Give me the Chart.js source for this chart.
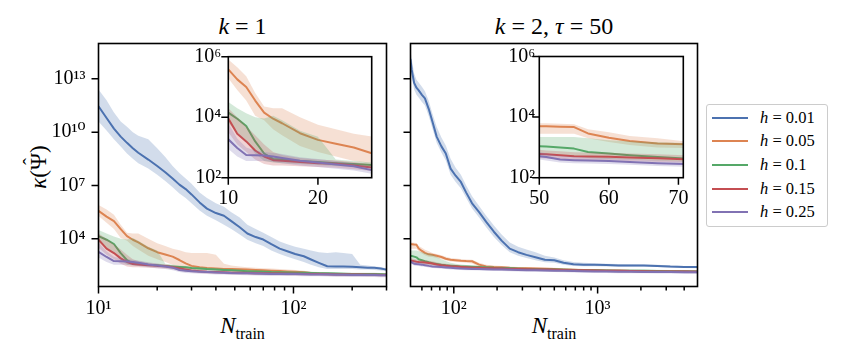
<!DOCTYPE html>
<html><head><meta charset="utf-8">
<script src="https://cdn.jsdelivr.net/npm/chart.js@4.4.1/dist/chart.umd.min.js"></script>
<style>
html,body{margin:0;padding:0;background:#fff;}
body{width:847px;height:363px;overflow:hidden;position:relative;font-family:"Liberation Serif","DejaVu Serif",serif;color:#000;}
canvas{position:absolute;}
.t{position:absolute;white-space:nowrap;line-height:1;}
#legend{position:absolute;left:706px;top:104px;width:122px;height:123px;border:1px solid #cccccc;border-radius:3px;background:rgba(255,255,255,0.85);box-sizing:border-box;padding-top:1px;z-index:10;}
.row{display:flex;align-items:center;height:23.67px;font-size:16.5px;}
.sw{width:36px;height:2px;margin-left:5px;margin-right:12px;}
.hat{position:relative;display:inline-block;}
.hat span{position:absolute;left:50%;top:-0.28em;transform:translateX(-50%);font-size:0.9em;}
</style></head>
<body>
<canvas id="cL" width="400" height="363" style="left:0;top:0;z-index:1"></canvas>
<canvas id="cR" width="300" height="363" style="left:400px;top:0;z-index:1"></canvas>
<canvas id="iL" width="215" height="170" style="left:168px;top:40px;z-index:2"></canvas>
<canvas id="iR" width="222" height="170" style="left:475px;top:40px;z-index:2"></canvas>

<div class="t" style="left:242.5px;top:14px;font-size:24px;transform:translateX(-50%)"><i>k</i> = 1</div>
<div class="t" style="left:554px;top:14px;font-size:24px;transform:translateX(-50%)"><i>k</i> = 2, <i>τ</i> = 50</div>
<div class="t" style="left:242.5px;top:314px;font-size:23px;transform:translateX(-50%)"><i>N</i><sub style="font-size:16px">train</sub></div>
<div class="t" style="left:554px;top:314px;font-size:23px;transform:translateX(-50%)"><i>N</i><sub style="font-size:16px">train</sub></div>
<div class="t" style="left:37.5px;top:166.5px;font-size:23px;transform:translate(-50%,-50%) rotate(-90deg)"><i>κ</i>(<span class="hat">Ψ<span>ˆ</span></span>)</div>
<div id="legend"></div>

<script>
// ---------------- data (values stored as log10 of kappa) ----------------
const hLabels = ['0.01', '0.05', '0.1', '0.15', '0.25'];
const colors  = ['#4C72B0', '#DD8452', '#55A868', '#C44E52', '#8172B3'];

// k = 1 panel
const leftN = [10, 11, 12, 13, 14, 15, 16, 18, 20, 22, 24, 26, 28, 30, 33, 36, 40, 44, 48, 53, 58, 64, 70, 77, 85, 93, 102, 113, 123, 135, 149, 165, 180, 200, 220, 240, 260, 280, 300];

const left_h001    = [11.46, 10.8, 10.2, 9.75, 9.4, 9.1, 8.84, 8.46, 8.1, 7.75, 7.4, 7.05, 6.8, 6.5, 6.05, 5.7, 5.45, 5.3, 5.0, 4.65, 4.3, 4.1, 3.96, 3.7, 3.45, 3.3, 3.15, 3.02, 2.84, 2.65, 2.46, 2.45, 2.44, 2.43, 2.4, 2.38, 2.37, 2.33, 2.27];
const left_h001_hi = [12.4, 11.8, 11.1, 10.6, 10.3, 10.0, 9.8, 9.6, 9.1, 8.6, 8.1, 7.7, 7.4, 7.1, 6.6, 6.3, 6.0, 5.8, 5.5, 5.2, 4.8, 4.55, 4.35, 4.1, 3.85, 3.7, 3.55, 3.45, 3.35, 3.25, 3.2, 3.25, 3.2, 3.15, 2.55, 2.5, 2.45, 2.42, 2.35];
const left_h001_lo = [10.6, 10.1, 9.6, 9.2, 8.8, 8.5, 8.25, 7.95, 7.6, 7.25, 6.9, 6.55, 6.3, 6.0, 5.6, 5.3, 5.05, 4.8, 4.55, 4.25, 3.95, 3.75, 3.6, 3.35, 3.15, 3.0, 2.85, 2.7, 2.55, 2.4, 2.3, 2.3, 2.3, 2.3, 2.28, 2.27, 2.25, 2.22, 2.18];

const left_h005    = [5.58, 5.25, 5.0, 4.55, 4.15, 3.95, 3.8, 3.47, 3.25, 3.12, 3.0, 2.81, 2.62, 2.48, 2.4, 2.36, 2.33, 2.31, 2.3, 2.29, 2.27, 2.25, 2.23, 2.21, 2.19, 2.17, 2.15, 2.12, 2.08, 2.05, 2.03, 2.02, 2.01, 2.01, 2.0, 2.0, 1.99, 1.99, 1.98];
const left_h005_hi = [5.91, 5.65, 5.35, 4.8, 4.35, 4.3, 4.3, 4.0, 3.75, 3.6, 3.45, 3.36, 3.25, 3.2, 3.2, 3.2, 3.1, 2.6, 2.5, 2.45, 2.4, 2.38, 2.35, 2.33, 2.3, 2.28, 2.25, 2.2, 2.15, 2.1, 2.08, 2.07, 2.06, 2.06, 2.05, 2.05, 2.04, 2.04, 2.03];
const left_h005_lo = [5.29, 4.9, 4.55, 4.05, 3.9, 3.6, 3.4, 3.05, 2.85, 2.7, 2.55, 2.45, 2.35, 2.3, 2.28, 2.26, 2.24, 2.22, 2.21, 2.2, 2.19, 2.17, 2.15, 2.13, 2.11, 2.09, 2.07, 2.05, 2.02, 1.99, 1.98, 1.97, 1.96, 1.96, 1.95, 1.95, 1.94, 1.94, 1.93];

const left_h01     = [4.15, 3.95, 3.71, 3.2, 2.8, 2.62, 2.6, 2.55, 2.52, 2.48, 2.45, 2.42, 2.4, 2.36, 2.33, 2.3, 2.28, 2.25, 2.23, 2.2, 2.18, 2.16, 2.15, 2.13, 2.12, 2.11, 2.1, 2.09, 2.08, 2.07, 2.06, 2.05, 2.04, 2.03, 2.03, 2.02, 2.02, 2.01, 2.0];
const left_h01_hi  = [4.5, 4.3, 4.13, 4.0, 3.96, 4.05, 3.9, 3.55, 3.35, 2.6, 2.55, 2.5, 2.47, 2.43, 2.4, 2.37, 2.35, 2.32, 2.3, 2.27, 2.25, 2.23, 2.22, 2.2, 2.19, 2.18, 2.17, 2.16, 2.15, 2.14, 2.13, 2.12, 2.11, 2.1, 2.1, 2.09, 2.09, 2.08, 2.07];
const left_h01_lo  = [3.8, 3.5, 3.2, 2.8, 2.55, 2.5, 2.48, 2.45, 2.42, 2.39, 2.36, 2.33, 2.31, 2.28, 2.25, 2.22, 2.2, 2.17, 2.15, 2.13, 2.11, 2.09, 2.08, 2.06, 2.05, 2.04, 2.03, 2.02, 2.01, 2.0, 1.99, 1.98, 1.97, 1.96, 1.96, 1.95, 1.95, 1.94, 1.93];

const left_h015    = [3.96, 3.45, 3.2, 2.9, 2.7, 2.58, 2.56, 2.52, 2.48, 2.46, 2.4, 2.34, 2.28, 2.22, 2.18, 2.15, 2.13, 2.12, 2.1, 2.09, 2.08, 2.07, 2.06, 2.05, 2.05, 2.04, 2.04, 2.03, 2.02, 2.02, 2.01, 2.0, 2.0, 1.99, 1.99, 1.98, 1.98, 1.97, 1.97];
const left_h015_hi = [4.3, 4.0, 3.7, 3.4, 3.1, 2.85, 2.75, 2.65, 2.6, 2.57, 2.52, 2.45, 2.38, 2.32, 2.27, 2.24, 2.22, 2.2, 2.18, 2.17, 2.16, 2.15, 2.14, 2.13, 2.13, 2.12, 2.12, 2.11, 2.1, 2.1, 2.09, 2.08, 2.08, 2.07, 2.07, 2.06, 2.06, 2.05, 2.05];
const left_h015_lo = [3.5, 3.1, 2.85, 2.6, 2.45, 2.4, 2.4, 2.38, 2.35, 2.33, 2.28, 2.22, 2.17, 2.12, 2.08, 2.05, 2.03, 2.02, 2.0, 1.99, 1.98, 1.97, 1.96, 1.95, 1.95, 1.94, 1.94, 1.93, 1.92, 1.92, 1.91, 1.9, 1.9, 1.89, 1.89, 1.88, 1.88, 1.87, 1.87];

const left_h025    = [3.27, 2.98, 2.75, 2.74, 2.73, 2.7, 2.65, 2.56, 2.5, 2.44, 2.38, 2.25, 2.2, 2.18, 2.15, 2.13, 2.11, 2.1, 2.08, 2.07, 2.06, 2.05, 2.04, 2.03, 2.03, 2.02, 2.02, 2.01, 2.0, 2.0, 1.99, 1.98, 1.98, 1.97, 1.97, 1.96, 1.96, 1.95, 1.95];
const left_h025_hi = [3.8, 3.3, 3.0, 2.9, 2.85, 2.82, 2.78, 2.68, 2.62, 2.55, 2.48, 2.35, 2.3, 2.27, 2.24, 2.22, 2.2, 2.19, 2.17, 2.16, 2.15, 2.14, 2.13, 2.12, 2.12, 2.11, 2.11, 2.1, 2.09, 2.09, 2.08, 2.07, 2.07, 2.06, 2.06, 2.05, 2.05, 2.04, 2.04];
const left_h025_lo = [2.95, 2.7, 2.55, 2.55, 2.55, 2.52, 2.48, 2.4, 2.35, 2.3, 2.24, 2.13, 2.08, 2.06, 2.04, 2.02, 2.0, 1.99, 1.97, 1.96, 1.95, 1.94, 1.93, 1.92, 1.92, 1.91, 1.91, 1.9, 1.89, 1.89, 1.88, 1.87, 1.87, 1.86, 1.86, 1.85, 1.85, 1.84, 1.84];

// k = 2, tau = 50 panel
const rightN = [50, 51, 53, 55, 57, 60, 63, 67, 71, 76, 82, 88, 95, 103, 112, 122, 134, 150, 168, 190, 215, 245, 280, 320, 370, 430, 500, 580, 680, 800, 950, 1150, 1400, 1700, 2100, 2600, 3200, 4000, 4950];

const right_h001    = [14.08, 13.5, 12.77, 12.5, 12.35, 12.1, 11.9, 11.3, 10.6, 9.75, 9.2, 8.8, 7.95, 7.55, 7.2, 6.6, 6.0, 5.5, 4.95, 4.4, 3.9, 3.45, 3.25, 3.1, 2.97, 2.82, 2.8, 2.66, 2.57, 2.55, 2.55, 2.53, 2.5, 2.5, 2.5, 2.48, 2.44, 2.42, 2.41];
const right_h001_hi = [14.6, 14.1, 13.3, 12.95, 12.8, 12.55, 12.3, 11.75, 11.05, 10.3, 9.7, 9.25, 8.5, 8.0, 7.6, 7.0, 6.4, 5.85, 5.3, 4.75, 4.25, 3.8, 3.55, 3.4, 3.25, 3.05, 2.95, 2.8, 2.7, 2.65, 2.63, 2.6, 2.58, 2.57, 2.56, 2.54, 2.5, 2.48, 2.47];
const right_h001_lo = [13.6, 13.1, 12.4, 12.1, 11.95, 11.7, 11.5, 10.9, 10.2, 9.4, 8.85, 8.4, 7.6, 7.2, 6.85, 6.3, 5.7, 5.2, 4.65, 4.1, 3.65, 3.25, 3.05, 2.92, 2.8, 2.68, 2.65, 2.55, 2.48, 2.46, 2.46, 2.45, 2.43, 2.43, 2.43, 2.41, 2.38, 2.36, 2.35];

const right_h005    = [3.70, 3.70, 3.68, 3.67, 3.46, 3.32, 3.21, 3.13, 3.10, 3.05, 2.98, 2.88, 2.82, 2.8, 2.77, 2.75, 2.74, 2.55, 2.45, 2.42, 2.4, 2.37, 2.35, 2.34, 2.33, 2.32, 2.3, 2.28, 2.26, 2.24, 2.23, 2.21, 2.2, 2.19, 2.18, 2.17, 2.16, 2.15, 2.15];
const right_h005_hi = [3.8, 3.8, 3.78, 3.76, 3.6, 3.5, 3.38, 3.3, 3.2, 3.15, 3.08, 3.0, 2.92, 2.9, 2.86, 2.84, 2.82, 2.66, 2.55, 2.5, 2.47, 2.44, 2.42, 2.41, 2.4, 2.39, 2.37, 2.35, 2.33, 2.31, 2.3, 2.28, 2.27, 2.26, 2.25, 2.24, 2.23, 2.22, 2.22];
const right_h005_lo = [3.45, 3.45, 3.45, 3.45, 3.3, 3.18, 3.08, 3.0, 2.98, 2.93, 2.87, 2.78, 2.72, 2.7, 2.68, 2.66, 2.62, 2.45, 2.37, 2.35, 2.33, 2.31, 2.29, 2.28, 2.27, 2.26, 2.24, 2.22, 2.2, 2.18, 2.17, 2.15, 2.14, 2.13, 2.12, 2.11, 2.1, 2.09, 2.09];

const right_h01     = [3.04, 3.03, 3.0, 2.96, 2.85, 2.8, 2.74, 2.68, 2.63, 2.59, 2.54, 2.51, 2.49, 2.47, 2.45, 2.44, 2.43, 2.41, 2.39, 2.37, 2.36, 2.34, 2.32, 2.3, 2.29, 2.28, 2.27, 2.26, 2.25, 2.24, 2.23, 2.22, 2.21, 2.2, 2.2, 2.19, 2.18, 2.18, 2.17];
const right_h01_hi  = [3.34, 3.34, 3.34, 3.34, 3.3, 3.24, 3.2, 3.17, 3.14, 3.0, 2.85, 2.75, 2.66, 2.6, 2.56, 2.53, 2.51, 2.49, 2.47, 2.45, 2.43, 2.41, 2.39, 2.37, 2.36, 2.35, 2.34, 2.33, 2.32, 2.31, 2.3, 2.29, 2.28, 2.27, 2.27, 2.26, 2.25, 2.25, 2.24];
const right_h01_lo  = [2.75, 2.74, 2.72, 2.7, 2.65, 2.62, 2.6, 2.56, 2.53, 2.49, 2.45, 2.42, 2.4, 2.38, 2.36, 2.35, 2.34, 2.32, 2.3, 2.28, 2.27, 2.25, 2.23, 2.21, 2.2, 2.19, 2.18, 2.17, 2.16, 2.15, 2.14, 2.13, 2.12, 2.11, 2.11, 2.1, 2.09, 2.09, 2.08];

const right_h015    = [2.78, 2.77, 2.74, 2.71, 2.7, 2.69, 2.67, 2.64, 2.61, 2.56, 2.52, 2.49, 2.46, 2.44, 2.42, 2.4, 2.38, 2.37, 2.35, 2.34, 2.33, 2.31, 2.3, 2.29, 2.28, 2.27, 2.26, 2.25, 2.24, 2.23, 2.22, 2.21, 2.2, 2.19, 2.18, 2.17, 2.16, 2.16, 2.15];
const right_h015_hi = [2.92, 2.9, 2.87, 2.84, 2.83, 2.82, 2.8, 2.77, 2.74, 2.68, 2.63, 2.6, 2.56, 2.54, 2.51, 2.49, 2.47, 2.45, 2.43, 2.42, 2.41, 2.39, 2.37, 2.36, 2.35, 2.34, 2.33, 2.32, 2.31, 2.3, 2.29, 2.28, 2.27, 2.26, 2.25, 2.24, 2.23, 2.23, 2.22];
const right_h015_lo = [2.64, 2.63, 2.61, 2.59, 2.58, 2.57, 2.55, 2.52, 2.49, 2.45, 2.42, 2.39, 2.37, 2.35, 2.33, 2.31, 2.3, 2.29, 2.27, 2.26, 2.25, 2.23, 2.22, 2.21, 2.2, 2.19, 2.18, 2.17, 2.16, 2.15, 2.14, 2.13, 2.12, 2.11, 2.1, 2.09, 2.08, 2.08, 2.07];

const right_h025    = [2.71, 2.68, 2.6, 2.58, 2.57, 2.55, 2.52, 2.48, 2.45, 2.43, 2.41, 2.39, 2.37, 2.35, 2.33, 2.32, 2.31, 2.3, 2.29, 2.28, 2.27, 2.26, 2.25, 2.24, 2.23, 2.22, 2.21, 2.2, 2.19, 2.18, 2.17, 2.16, 2.15, 2.15, 2.14, 2.13, 2.13, 2.12, 2.12];
const right_h025_hi = [2.85, 2.8, 2.72, 2.69, 2.67, 2.65, 2.62, 2.58, 2.55, 2.52, 2.5, 2.48, 2.46, 2.44, 2.42, 2.4, 2.39, 2.38, 2.37, 2.36, 2.35, 2.34, 2.33, 2.32, 2.31, 2.3, 2.29, 2.28, 2.27, 2.26, 2.25, 2.24, 2.23, 2.23, 2.22, 2.21, 2.21, 2.2, 2.2];
const right_h025_lo = [2.6, 2.57, 2.5, 2.48, 2.47, 2.45, 2.43, 2.39, 2.36, 2.34, 2.32, 2.3, 2.28, 2.27, 2.25, 2.24, 2.23, 2.22, 2.21, 2.2, 2.19, 2.18, 2.17, 2.16, 2.15, 2.14, 2.13, 2.12, 2.11, 2.1, 2.09, 2.08, 2.07, 2.07, 2.06, 2.05, 2.05, 2.04, 2.04];

// ticks
const leftXTicks  = [10, 20, 30, 40, 50, 60, 70, 80, 90, 100, 200, 300];
const leftXMajor  = [10, 100];
const rightXTicks = [60, 70, 80, 90, 100, 200, 300, 400, 500, 600, 700, 800, 900, 1000, 2000, 3000, 4000];
const rightXMajor = [100, 1000];
const mainYTicks  = [1e4, 1e7, 1e10, 1e13];
const insetYTicks = [1e2, 1e4, 1e6];
const insetLXTicks = [10, 20];
const insetRXTicks = [50, 60, 70];

// ---------------- helpers ----------------
const FONT = '"Liberation Serif", "DejaVu Serif", serif';
const SUP = {'0':'⁰','1':'¹','2':'²','3':'³','4':'⁴','5':'⁵','6':'⁶','7':'⁷','8':'⁸','9':'⁹','-':'⁻'};
const pow10Label = v => '10' + String(Math.round(Math.log10(v))).split('').map(c => SUP[c]).join('');
const plainLabel = v => String(v);
const noLabel = () => '';

function rgba(hex, a) {
  const n = parseInt(hex.slice(1), 16);
  return `rgba(${(n >> 16) & 255},${(n >> 8) & 255},${n & 255},${a})`;
}

function buildSets(N, series) {
  const ds = [];
  const pts = arr => N.map((n, j) => ({x: n, y: Math.pow(10, arr[j])}));
  series.forEach((s, i) => {
    ds.push({data: pts(s[1]), borderWidth: 0, pointRadius: 0, fill: '+1', backgroundColor: rgba(colors[i], 0.25), order: 100 - 3 * i});
    ds.push({data: pts(s[2]), borderWidth: 0, pointRadius: 0, fill: false, backgroundColor: 'rgba(0,0,0,0)', order: 100 - 3 * i});
    ds.push({data: pts(s[0]), borderColor: colors[i], borderWidth: 2, pointRadius: 0, fill: false,
             borderJoinStyle: 'round', borderCapStyle: 'round', order: 99 - 3 * i});
  });
  return ds;
}

function axis(type, min, max, tickVals, majorVals, fmt, padding, fitKey, fitVal) {
  return {
    type, min, max, bounds: 'data',
    afterBuildTicks: s => { s.ticks = tickVals.map(v => ({value: v, major: majorVals.includes(v)})); },
    afterFit: s => { s[fitKey] = fitVal; },
    ticks: {autoSkip: false, maxRotation: 0, minRotation: 0, padding, color: '#000',
            font: {family: FONT, size: 20},
            callback: v => majorVals.includes(v) ? fmt(v) : ''},
    grid: {display: true, drawOnChartArea: false, drawTicks: true, tickLength: 7, color: 'rgba(0,0,0,0)'},
    border: {display: false}
  };
}

const frameTicks = {
  id: 'frameTicks',
  beforeDatasetsDraw(chart, args, opts) {
    if (opts.white) {
      const a = chart.chartArea, c = chart.ctx;
      c.save(); c.fillStyle = '#fff'; c.fillRect(a.left, a.top, a.width, a.height); c.restore();
    }
  },
  afterDraw(chart) {
    const a = chart.chartArea, c = chart.ctx;
    c.save();
    c.strokeStyle = '#000'; c.lineWidth = 1.5;
    c.beginPath();
    ['x', 'y'].forEach(id => {
      const s = chart.scales[id];
      s.ticks.forEach(t => {
        const len = t.major ? 7 : 4;
        const p = s.getPixelForValue(t.value);
        if (id === 'x') { c.moveTo(p, a.bottom); c.lineTo(p, a.bottom + len); }
        else { c.moveTo(a.left, p); c.lineTo(a.left - len, p); }
      });
    });
    c.stroke();
    c.lineWidth = 1.6;
    c.strokeRect(a.left, a.top, a.width, a.height);
    c.restore();
  }
};

function panel(id, datasets, pad, xAxis, yAxis, white) {
  return new Chart(document.getElementById(id), {
    type: 'line',
    data: {datasets},
    options: {
      responsive: false, animation: false, devicePixelRatio: 1,
      layout: {padding: pad},
      elements: {line: {tension: 0}},
      plugins: {legend: {display: false}, tooltip: {enabled: false}, frameTicks: {white}},
      scales: {x: xAxis, y: yAxis}
    },
    plugins: [frameTicks]
  });
}

const leftSeries = [
  [left_h001, left_h001_hi, left_h001_lo],
  [left_h005, left_h005_hi, left_h005_lo],
  [left_h01,  left_h01_hi,  left_h01_lo],
  [left_h015, left_h015_hi, left_h015_lo],
  [left_h025, left_h025_hi, left_h025_lo]
];
const rightSeries = [
  [right_h001, right_h001_hi, right_h001_lo],
  [right_h005, right_h005_hi, right_h005_lo],
  [right_h01,  right_h01_hi,  right_h01_lo],
  [right_h015, right_h015_hi, right_h015_lo],
  [right_h025, right_h025_hi, right_h025_lo]
];

const YMIN = 20.9, YMAX = 9.7e14;

// main left: chart area 98.5..386.5 x 43.5..286.5
panel('cL', buildSets(leftN, leftSeries), {top: 43.5, right: 13.5, left: 0, bottom: 0},
  axis('logarithmic', 10, 300, leftXTicks, leftXMajor, pow10Label, 3, 'height', 76.5),
  axis('logarithmic', YMIN, YMAX, mainYTicks, mainYTicks, pow10Label, 6, 'width', 98.5), false);

// main right: chart area 410.5..697.5
panel('cR', buildSets(rightN, rightSeries), {top: 43.5, right: 2.5, left: 0, bottom: 0},
  axis('logarithmic', 50, 4950, rightXTicks, rightXMajor, pow10Label, 3, 'height', 76.5),
  axis('logarithmic', YMIN, YMAX, mainYTicks, mainYTicks, noLabel, 6, 'width', 10.5), false);

// inset left: chart area 228.3..371.7 x 56.7..177.7
panel('iL', buildSets(leftN, leftSeries), {top: 16.7, right: 11.3, left: 0, bottom: 0},
  axis('linear', 10, 26, insetLXTicks, insetLXTicks, plainLabel, 2, 'height', 32.3),
  axis('logarithmic', 100, 1e6, insetYTicks, insetYTicks, pow10Label, 0, 'width', 60.3), true);

// inset right: chart area 539.3..683.3 x 56.5..177.7
panel('iR', buildSets(rightN, rightSeries), {top: 16.5, right: 13.7, left: 0, bottom: 0},
  axis('linear', 50, 70.7, insetRXTicks, insetRXTicks, plainLabel, 2, 'height', 32.3),
  axis('logarithmic', 100, 1e6, insetYTicks, insetYTicks, pow10Label, -3, 'width', 64.3), true);

// legend
const lg = document.getElementById('legend');
hLabels.forEach((h, i) => {
  const r = document.createElement('div');
  r.className = 'row';
  r.innerHTML = `<span class="sw" style="background:${colors[i]}"></span><span><i>h</i> = ${h}</span>`;
  lg.appendChild(r);
});
</script>
</body></html>
